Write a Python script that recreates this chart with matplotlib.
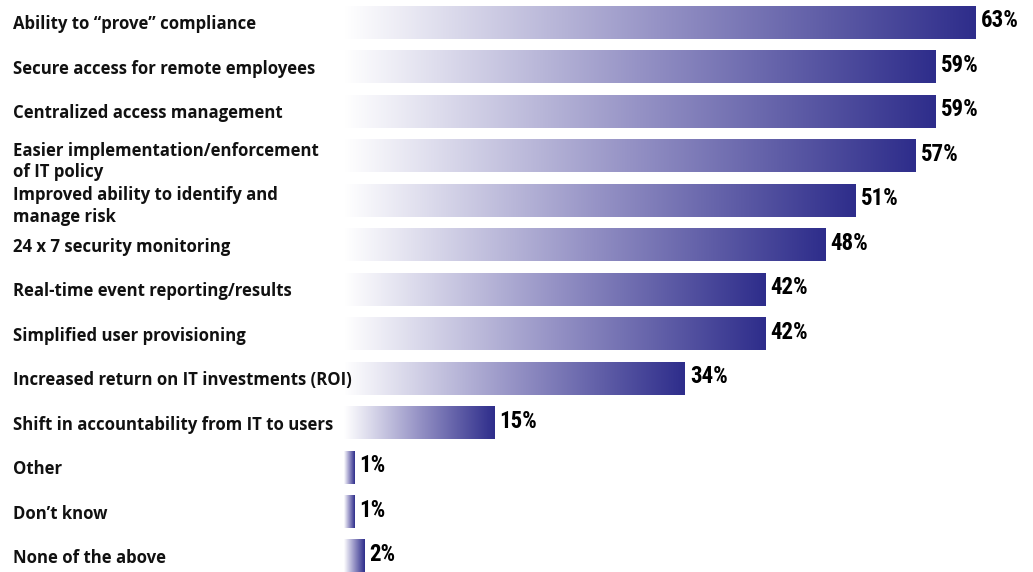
import matplotlib

matplotlib.use("Agg")

import matplotlib.pyplot as plt  # noqa: E402
import numpy as np  # noqa: E402
from matplotlib.colors import LinearSegmentedColormap  # noqa: E402
from matplotlib.transforms import blended_transform_factory  # noqa: E402

CATEGORIES = [
    "Ability to \u201cprove\u201d compliance",
    "Secure access for remote employees",
    "Centralized access management",
    "Easier implementation/enforcement\nof IT policy",
    "Improved ability to identify and\nmanage risk",
    "24 x 7 security monitoring",
    "Real-time event reporting/results",
    "Simplified user provisioning",
    "Increased return on IT investments (ROI)",
    "Shift in accountability from IT to users",
    "Other",
    "Don\u2019t know",
    "None of the above",
]
VALUES = [63, 59, 59, 57, 51, 48, 42, 42, 34, 15, 1, 1, 2]

GRADIENT = LinearSegmentedColormap.from_list("bar", ["#ffffff", "#9592c5", "#2e2d8b"])
W, H, DPI = 1033, 572, 100

fig = plt.figure(figsize=(W / DPI, H / DPI), dpi=DPI)
ax = fig.add_axes([344 / W, 0, 1 - 344 / W, 1])
ax.axis("off")

grad = np.linspace(0, 1, 256).reshape(1, -1)
bar_h = 0.74
label_tf = blended_transform_factory(fig.transFigure, ax.transData)

for i, (cat, val) in enumerate(zip(CATEGORIES, VALUES)):
    ax.imshow(
        grad,
        cmap=GRADIENT,
        aspect="auto",
        extent=(0, val, i + bar_h / 2, i - bar_h / 2),
        interpolation="bilinear",
    )
    ax.text(
        val + 0.5,
        i - 0.04,
        f"{val}%",
        ha="left",
        va="center",
        fontsize=16.5,
        fontweight="bold",
        family=["Liberation Sans Narrow", "Roboto Condensed", "Roboto", "DejaVu Sans"],
        color="#000000",
    )
    # two-line labels sit a little lower than their bar
    dy = 0.12 if "\n" in cat else 0.04
    ax.text(
        13 / W,
        i + dy,
        cat,
        transform=label_tf,
        ha="left",
        va="center",
        fontsize=12.1,
        fontweight="bold",
        family=["Open Sans", "DejaVu Sans"],
        color="#111111",
        linespacing=1.25,
    )

ax.set_ylim(12.35, -0.506)
ax.set_xlim(0, 68.7)
fig.savefig("out.png", dpi=DPI)
